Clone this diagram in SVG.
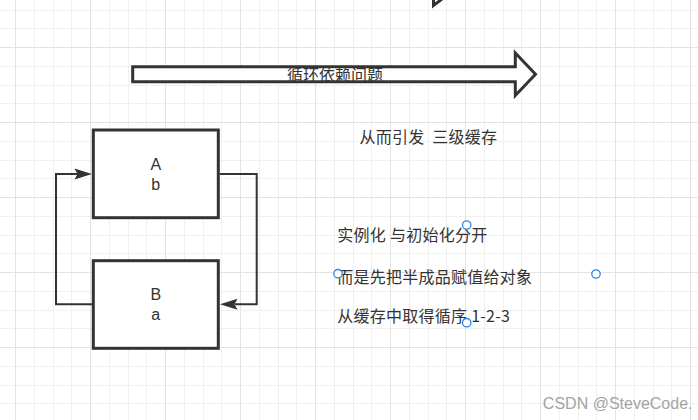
<svg xmlns="http://www.w3.org/2000/svg" width="698" height="420" viewBox="0 0 698 420">
<style>
.minor{stroke:#f0f0f0;stroke-width:1;fill:none}
.major{stroke:#e3e3e3;stroke-width:1;fill:none}
.shape{fill:#ffffff;stroke:#333333;stroke-width:3}
.edge{fill:none;stroke:#333333;stroke-width:2}
.head{fill:#333333;stroke:none}
.t{font-family:"Noto Sans CJK SC","Noto Sans",sans-serif;font-size:16px;fill:#333333}
.lbl{font-family:"Liberation Sans",Arial,sans-serif;font-size:16px;fill:#333333;text-anchor:middle}
.n{letter-spacing:0.25px}
.c{text-anchor:middle}
.handle{fill:#ffffff;stroke:#2a86f0;stroke-width:1.3}
.wm{font-family:"Liberation Sans",Arial,sans-serif;font-size:16px;fill:#a3a3a3;text-anchor:end}
</style>
<rect width="698" height="420" fill="#ffffff"/>
<g id="grid">
<path class="minor" d="M34.5 0V420M53.5 0V420M71.5 0V420M109.5 0V420M128.5 0V420M146.5 0V420M184.5 0V420M203.5 0V420M221.5 0V420M259.5 0V420M278.5 0V420M296.5 0V420M334.5 0V420M353.5 0V420M371.5 0V420M409.5 0V420M428.5 0V420M446.5 0V420M484.5 0V420M503.5 0V420M521.5 0V420M559.5 0V420M578.5 0V420M596.5 0V420M634.5 0V420M653.5 0V420M671.5 0V420"/>
<path class="minor" d="M0 10.5H698M0 28.5H698M0 66.5H698M0 85.5H698M0 103.5H698M0 141.5H698M0 160.5H698M0 178.5H698M0 216.5H698M0 235.5H698M0 253.5H698M0 291.5H698M0 310.5H698M0 328.5H698M0 366.5H698M0 385.5H698M0 403.5H698"/>
<path class="major" d="M15.5 0V420M90.5 0V420M165.5 0V420M240.5 0V420M315.5 0V420M390.5 0V420M465.5 0V420M540.5 0V420M615.5 0V420M690.5 0V420"/>
<path class="major" d="M0 47.5H698M0 122.5H698M0 197.5H698M0 272.5H698M0 347.5H698"/>
</g>
<g id="partial-arrow">
<path d="M433.5 -6V5.5L442 -1" fill="none" stroke="#333333" stroke-width="3"/>
</g>
<g id="big-arrow">
<polygon class="shape" points="132.7,66.7 515.3,66.7 515.3,53 535.5,74.2 515.3,95.5 515.3,81.7 132.7,81.7"/>
<text class="t c" x="335" y="80.5">循环依赖问题</text>
</g>
<g id="nodeA">
<rect class="shape" x="93.3" y="130" width="125" height="87.7"/>
<text class="lbl"><tspan x="155.8" y="170">A</tspan><tspan x="155.8" y="190">b</tspan></text>
</g>
<g id="nodeB">
<rect class="shape" x="93.3" y="260.7" width="125" height="87.6"/>
<text class="lbl"><tspan x="155.8" y="300">B</tspan><tspan x="155.8" y="320">a</tspan></text>
</g>
<g id="connectors">
<path class="edge" d="M219.5 174H256.7V304.3H235"/>
<polygon class="head" points="220,304.3 237.5,298.8 234.5,304.3 237.5,309.8"/>
<path class="edge" d="M92 304.3H56V174H78"/>
<polygon class="head" points="92,174 74.5,168.5 77.5,174 74.5,179.5"/>
</g>
<g id="note1">
<text class="t n" x="359.5" y="143" xml:space="preserve">从而引发  三级缓存</text>
</g>
<g id="note2">
<text class="t n" x="337.3" y="241.3" xml:space="preserve">实例化 与初始化分开</text>
<text class="t n" x="337.3" y="283">而是先把半成品赋值给对象</text>
<text class="t n" x="337.3" y="321.5" xml:space="preserve">从缓存中取得循序 1-2-3</text>
<circle class="handle" cx="466.7" cy="225" r="4.2"/>
<circle class="handle" cx="338" cy="273.7" r="4.2"/>
<circle class="handle" cx="596" cy="274" r="4.2"/>
<circle class="handle" cx="466.7" cy="322.7" r="4.2"/>
</g>
<text class="wm" x="692.5" y="409.3">CSDN @SteveCode.</text>
</svg>
